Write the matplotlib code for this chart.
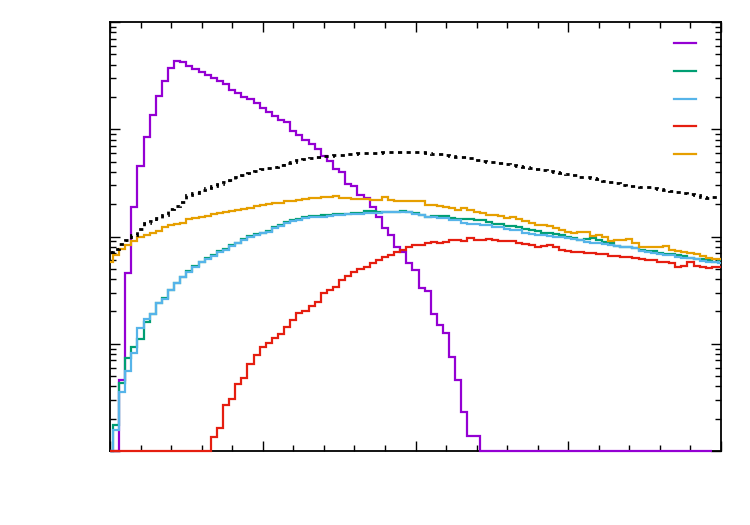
import numpy as np
import matplotlib
matplotlib.use("Agg")
import matplotlib.pyplot as plt

# histogram bins 0..100 (log scale)
bins = np.arange(101)

purple = [0, 0, 4.6, 46, 189, 456, 855, 1362, 2063, 2846,
          3715, 4346, 4254, 3929, 3658, 3430, 3198, 2974, 2811, 2669,
          2333, 2173, 2019, 1909, 1751, 1574, 1453, 1334, 1224, 1172,
          966, 887, 797, 731, 657, 565, 507, 427, 401, 310,
          297, 244, 229, 189, 152, 120, 103, 80, 72, 57,
          49, 33, 31, 19, 15, 12.6, 7.5, 4.6, 2.3, 1.38,
          1.38, 0, 0, 0, 0, 0, 0, 0, 0, 0,
          0, 0, 0, 0, 0, 0, 0, 0, 0, 0,
          0, 0, 0, 0, 0, 0, 0, 0, 0, 0,
          0, 0, 0, 0, 0, 0, 0, 0, 0]

green = [0, 1.75, 4.31, 7.37, 9.33, 11.1, 16, 19, 24, 26.7,
         31.8, 36.9, 42, 47.8, 53.2, 58.3, 63.1, 67.4, 73.4, 75.8,
         82.6, 87.7, 94, 100.2, 104.6, 108.1, 113, 123, 128.3, 135.4,
         141.3, 146, 152.4, 154.1, 155.7, 157.3, 157.3, 160.8, 162.5, 163.6,
         164.2, 164.2, 173.3, 173.3, 167.9, 167.9, 169.6, 169.6, 172.2, 169.6,
         164.2, 159, 153.4, 154.1, 155.7, 155.7, 147.5, 146, 145, 144.4,
         142.8, 141.9, 136.8, 131.2, 129.7, 126.4, 124.2, 122.2, 117.8, 115.2,
         111.6, 108.7, 106.9, 105, 103.5, 99.8, 97, 93, 95, 96.4,
         92, 89.6, 86.2, 81.7, 80.5, 79.5, 77.4, 75, 73.9, 72.6,
         69.8, 69.1, 68.4, 67.4, 65.9, 62.8, 62.1, 61.4, 59.8, 58.3,
         60.5]

blue = [0, 1.57, 3.57, 5.61, 8.15, 14.1, 17.0, 19.0, 24.2, 26.2,
        31.8, 36.7, 42.3, 47.1, 52.4, 58.3, 61.8, 66.4, 72.3, 75,
        81.7, 87.7, 93, 98.5, 103.5, 107.4, 111.2, 119.1, 125.6, 133,
        138.3, 142.8, 148.2, 150.8, 153.4, 153.4, 155.7, 159, 160, 161.4,
        162.5, 162.5, 166, 167.1, 167.1, 167.9, 168.6, 169.6, 170.7, 167.9,
        162.5, 157.3, 151.4, 150.8, 149.2, 148.2, 142.8, 141.3, 134.9, 130.3,
        131.2, 128.3, 126.9, 123.7, 121.6, 117.8, 115.2, 114, 107.4, 105.7,
        103.5, 102.4, 101.3, 99.1, 98.5, 96.4, 94.4, 92, 89.6, 87.1,
        86.5, 85.3, 83.5, 81.7, 80.5, 79.1, 77.4, 73.9, 71.8, 69.8,
        68.8, 67.4, 66.6, 64.1, 63.4, 62.8, 61.1, 59.6, 58.3, 57.7,
        57.1]

red = [0, 0, 0, 0, 0, 0, 0, 0, 0, 0,
       0, 0, 0, 0, 0, 0, 0, 1.36, 1.65, 2.69,
       3.06, 4.19, 4.77, 6.48, 7.87, 9.4, 10.2, 11.2, 12.3, 14.4,
       16.7, 19.4, 20.2, 22.5, 24.7, 29.6, 31.8, 33.9, 39.4, 42.9,
       47.1, 49.9, 52.4, 57.1, 60.5, 65, 67.4, 72.3, 75, 80.5,
       83.5, 83.5, 86.2, 89.1, 87.2, 89.6, 92, 93, 90, 96,
       93, 93, 94, 92, 90, 91, 91, 87.2, 85.3, 83.5,
       80, 80.9, 82.6, 79.1, 74.2, 73.4, 72.3, 71.1, 70.3, 69.8,
       68.8, 68.1, 65.9, 65.5, 65, 63.9, 62.8, 61.8, 60.5, 59.8,
       58.3, 57.3, 56.3, 52.4, 53.2, 58.3, 53.2, 52.4, 50.9, 51.5,
       51.7]

orange = [58.3, 67.3, 76.2, 83.5, 91.6, 99.8, 103.5, 108.7, 113.5, 122.2,
          128.3, 131.2, 134.9, 145, 148.1, 153.4, 156.7, 162.5, 167.1, 168.6,
          174.5, 177.1, 179.8, 183.6, 193, 197, 199, 203.6, 205.7, 212.5,
          214.8, 219.4, 221.8, 226.6, 229, 231.5, 232.6, 239.3, 229, 226.6,
          224.2, 224.2, 221.8, 219.4, 219.4, 231.5, 219.4, 214.8, 214.8, 212.5,
          212.5, 214.8, 197, 195, 190.8, 186.8, 184.9, 177.1, 182.9, 177.1,
          167.9, 164.2, 158.9, 157.3, 155.6, 149.2, 150.8, 144.4, 138.3, 133.9,
          128.3, 126.9, 124.2, 120.3, 115.2, 110.4, 108.1, 111.2, 110.4, 100.2,
          103.5, 98.5, 91.6, 92, 93, 94, 87.1, 80.5, 80, 79.5,
          80.5, 80.8, 75, 73.4, 72.3, 70.3, 68.9, 66, 62.8, 61.8,
          61.4]

total = [71.8, 76.6, 85.3, 93, 103.5, 117.8, 134, 140, 149, 159,
         181, 193, 210, 244, 255, 272, 284, 297, 310, 323,
         337, 360, 375, 392, 409, 427, 436, 446, 466, 486,
         497, 519, 530, 541, 553, 559, 565, 571, 577, 583,
         590, 596, 599, 599, 603, 609, 612, 615, 619, 619,
         615, 609, 599, 590, 586, 577, 569, 556, 547, 535,
         519, 507, 500, 493, 483, 476, 466, 456, 446, 434,
         424, 418, 409, 401, 389, 380, 372, 362, 356, 350,
         341, 330, 320, 313, 303, 298, 295, 292, 290, 284,
         276, 272, 266, 259, 253, 247, 242, 234, 231, 232,
         232]

ymin, ymax = 1, 1e4
edges = np.clip(np.append(bins - 0.5, bins[-1] + 0.5), 0, 100)

fig = plt.figure(figsize=(7.5, 5.25), dpi=100)
ax = fig.add_axes([110/750, 74/525, 611/750, 429/525])

series = [(purple, '#9400d3'), (green, '#009e73'), (blue, '#56b4e9'),
          (red, '#e51e10'), (orange, '#e69f00')]
handles = []
for vals, col in series:
    v = np.array(vals, dtype=float)
    v[v <= 0] = ymin  # empty bins sit on the bottom axis
    ax.stairs(v, edges[:len(v) + 1], baseline=None, color=col, lw=1.6, clip_on=False, zorder=3)
    handles.append(ax.plot([], [], color=col, lw=1.6)[0])

ax.stairs(np.array(total), edges, baseline=None, color='black', lw=2,
          linestyle=(0, (1.5, 1.6)), zorder=3)

ax.set_yscale('log')
ax.set_xlim(0, 100)
ax.set_ylim(ymin, ymax)
ax.set_xticks([0, 25, 50, 75, 100])
ax.set_xticks(np.arange(0, 101, 5), minor=True)
ax.tick_params(which='both', direction='in', top=True, right=True,
               labelbottom=False, labelleft=False, width=1)
ax.tick_params(which='major', length=7)
ax.tick_params(which='minor', length=4)
for s in ax.spines.values():
    s.set_linewidth(1.3)
    s.set_zorder(2)

ax.legend(handles, ['', '', '', '', ''], loc='upper right', bbox_to_anchor=(0.97, 0.985),
          frameon=False, markerfirst=False, handlelength=1.35, fontsize=12,
          labelspacing=0.58, handletextpad=0.0, borderaxespad=0.0)

fig.savefig('out.png', dpi=100)
